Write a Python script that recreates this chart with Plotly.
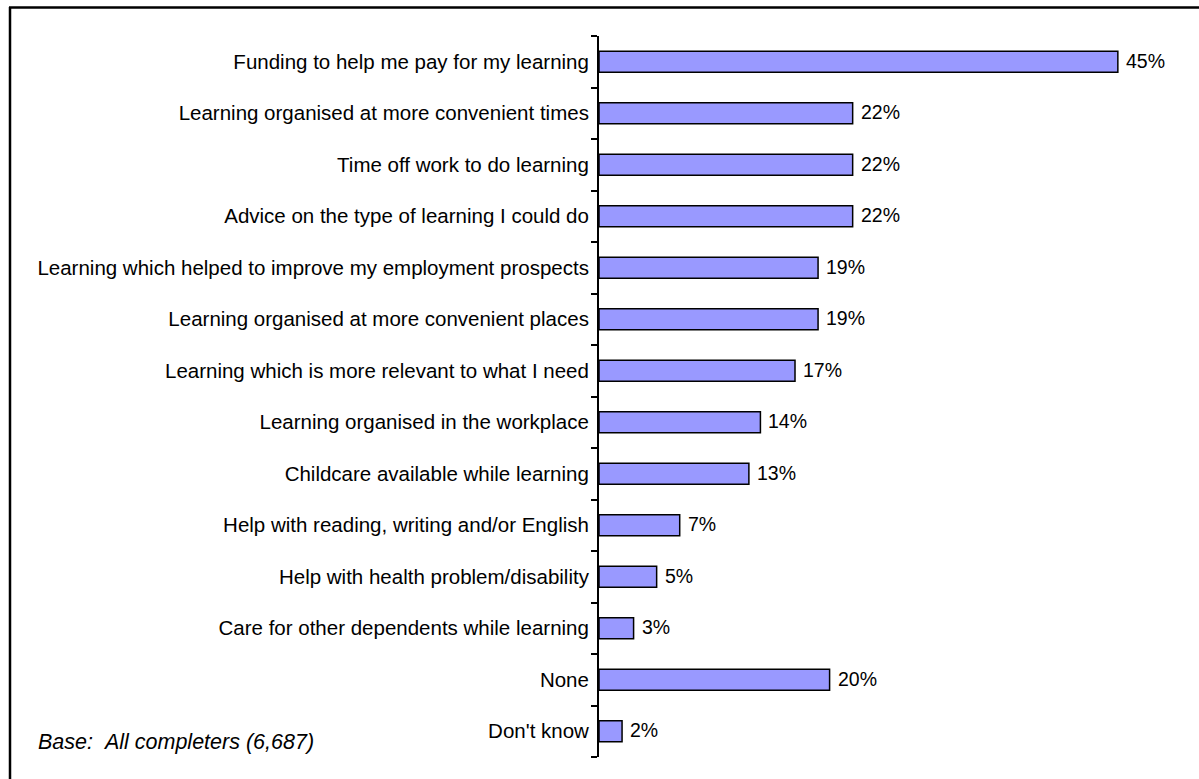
import plotly.graph_objects as go

categories = [
    "Funding to help me pay for my learning",
    "Learning organised at more convenient times",
    "Time off work to do learning",
    "Advice on the type of learning I could do",
    "Learning which helped to improve my employment prospects",
    "Learning organised at more convenient places",
    "Learning which is more relevant to what I need",
    "Learning organised in the workplace",
    "Childcare available while learning",
    "Help with reading, writing and/or English",
    "Help with health problem/disability",
    "Care for other dependents while learning",
    "None",
    "Don't know",
]
values = [45, 22, 22, 22, 19, 19, 17, 14, 13, 7, 5, 3, 20, 2]
value_labels = [f"{v}%" for v in values]
base_note = "Base:\u00a0\u00a0All completers (6,687)"

FONT = "Liberation Sans, Arial, sans-serif"
W, H = 1199, 779
L, R, T, B = 599, 0, 36, 22
plot_w = W - L - R
plot_h = H - T - B
px_per_pct = 11.53
xmax = plot_w / px_per_pct


def px_x(p):
    return (p - L) / plot_w


def px_y(p):
    return (H - B - p) / plot_h


fig = go.Figure()
fig.add_trace(go.Bar(
    y=categories,
    x=values,
    orientation="h",
    marker=dict(color="#9999FF", line=dict(color="black", width=1.5)),
    hoverinfo="skip",
))

# value labels just past the end of each bar
for cat, v, lab in zip(categories, values, value_labels):
    fig.add_annotation(
        x=v, y=cat, text=lab, showarrow=False,
        xanchor="left", yanchor="middle", xshift=6, yshift=1,
        font=dict(family=FONT, size=19.5, color="black"),
    )

# base note
fig.add_annotation(
    xref="paper", yref="paper",
    x=px_x(36), y=px_y(742),
    text=f"<i>{base_note}</i>", showarrow=False,
    xanchor="left", yanchor="middle",
    font=dict(family=FONT, size=21.5, color="black"),
)

# frame lines along the top and left edges
fig.add_shape(type="line", xref="paper", yref="paper",
              x0=px_x(9), x1=px_x(W + 5), y0=px_y(7.5), y1=px_y(7.5),
              line=dict(color="black", width=2.5))
fig.add_shape(type="line", xref="paper", yref="paper",
              x0=px_x(10), x1=px_x(10), y0=px_y(7), y1=px_y(H + 5),
              line=dict(color="black", width=2.5))

fig.update_layout(
    width=W, height=H,
    margin=dict(l=L, r=R, t=T, b=B, pad=0),
    paper_bgcolor="white", plot_bgcolor="white",
    showlegend=False,
    bargap=0.59,
    font=dict(family=FONT, size=19, color="black"),
)
fig.update_xaxes(range=[0, xmax], visible=False, fixedrange=True)
fig.update_yaxes(
    type="category",
    categoryorder="array", categoryarray=categories[::-1],
    autorange=False, range=[-0.5, len(categories) - 0.5],
    showline=True, linecolor="black", linewidth=2,
    ticks="outside", ticklen=6, tickwidth=2, tickcolor="black",
    tickson="boundaries",
    showgrid=False, zeroline=False,
    ticklabelstandoff=4,
    tickfont=dict(family=FONT, size=20.5, color="black"),
    fixedrange=True,
)

fig.write_html("out.html")
